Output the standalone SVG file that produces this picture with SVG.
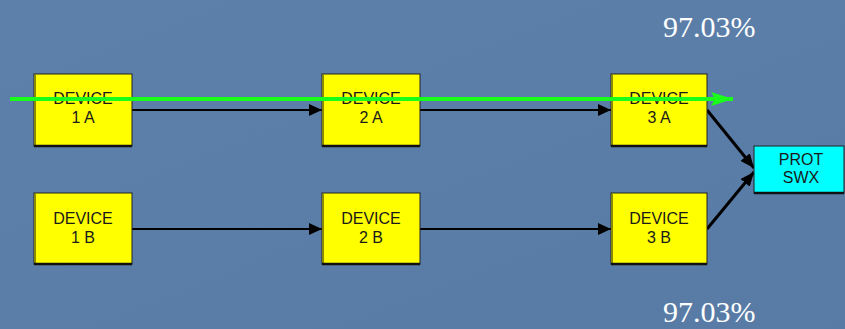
<svg xmlns="http://www.w3.org/2000/svg" width="845" height="329" viewBox="0 0 845 329">
<defs>
<linearGradient id="bg" x1="0" y1="0" x2="1" y2="1">
<stop offset="0" stop-color="#5d80aa"/>
<stop offset="0.5" stop-color="#5a7ea8"/>
<stop offset="1" stop-color="#577ba4"/>
</linearGradient>
<marker id="ah" markerWidth="13" markerHeight="12" refX="13" refY="6" orient="auto" markerUnits="userSpaceOnUse">
<path d="M0,0 L13,6 L0,12 z" fill="#000"/>
</marker>
<marker id="ahd" markerWidth="14" markerHeight="12" refX="14" refY="6" orient="auto" markerUnits="userSpaceOnUse">
<path d="M0,0 L14,6 L0,12 z" fill="#000"/>
</marker>
<marker id="ahg" markerWidth="22" markerHeight="14" refX="22" refY="7" orient="auto" markerUnits="userSpaceOnUse">
<path d="M0,0 L22,7 L0,14 L4,7 z" fill="#1aff1a"/>
</marker>
<style>
.box{fill:#ffff00;stroke:#222;stroke-width:1}
.cyan{fill:#00ffff;stroke:#222;stroke-width:1}
.ledge{stroke:#8a8a00;stroke-width:2}
.shadow{stroke:#111;stroke-width:2.5}
.lbl{font-family:"Liberation Sans",Arial,sans-serif;font-size:16px;fill:#1a1a1a;text-anchor:middle}
.pct{font-family:"Liberation Serif","Times New Roman",serif;font-size:30px;fill:#ffffff}
.conn{stroke:#000;stroke-width:2;fill:none}
.diag{stroke:#000;stroke-width:3;fill:none}
</style>
</defs>
<rect x="0" y="0" width="845" height="329" fill="url(#bg)"/>

<text class="pct" x="663" y="37">97.03%</text>
<text class="pct" x="663" y="322">97.03%</text>

<g id="connectors">
<line class="conn" x1="132" y1="110" x2="322" y2="110" marker-end="url(#ah)"/>
<line class="conn" x1="420" y1="110" x2="611" y2="110" marker-end="url(#ah)"/>
<line class="conn" x1="132" y1="229" x2="322" y2="229" marker-end="url(#ah)"/>
<line class="conn" x1="420" y1="229" x2="611" y2="229" marker-end="url(#ah)"/>
<line class="diag" x1="707" y1="110" x2="754" y2="168" marker-end="url(#ahd)"/>
<line class="diag" x1="707" y1="229" x2="754" y2="172" marker-end="url(#ahd)"/>
</g>

<g id="dev1a">
<rect class="box" x="34" y="74" width="98" height="72"/>
<line class="ledge" x1="35" y1="75" x2="35" y2="146"/>
<line class="shadow" x1="34" y1="146" x2="132" y2="146"/>
<text class="lbl" x="83" y="104">DEVICE</text>
<text class="lbl" x="83" y="123">1 A</text>
</g>
<g id="dev2a">
<rect class="box" x="322" y="74" width="98" height="72"/>
<line class="ledge" x1="323" y1="75" x2="323" y2="146"/>
<line class="shadow" x1="322" y1="146" x2="420" y2="146"/>
<text class="lbl" x="371" y="104">DEVICE</text>
<text class="lbl" x="371" y="123">2 A</text>
</g>
<g id="dev3a">
<rect class="box" x="611" y="74" width="96" height="72"/>
<line class="ledge" x1="612" y1="75" x2="612" y2="146"/>
<line class="shadow" x1="611" y1="146" x2="707" y2="146"/>
<text class="lbl" x="659" y="104">DEVICE</text>
<text class="lbl" x="659" y="123">3 A</text>
</g>
<g id="dev1b">
<rect class="box" x="34" y="193" width="98" height="71"/>
<line class="ledge" x1="35" y1="194" x2="35" y2="264"/>
<line class="shadow" x1="34" y1="264" x2="132" y2="264"/>
<text class="lbl" x="83" y="224">DEVICE</text>
<text class="lbl" x="83" y="243">1 B</text>
</g>
<g id="dev2b">
<rect class="box" x="322" y="193" width="98" height="71"/>
<line class="ledge" x1="323" y1="194" x2="323" y2="264"/>
<line class="shadow" x1="322" y1="264" x2="420" y2="264"/>
<text class="lbl" x="371" y="224">DEVICE</text>
<text class="lbl" x="371" y="243">2 B</text>
</g>
<g id="dev3b">
<rect class="box" x="611" y="193" width="96" height="71"/>
<line class="ledge" x1="612" y1="194" x2="612" y2="264"/>
<line class="shadow" x1="611" y1="264" x2="707" y2="264"/>
<text class="lbl" x="659" y="224">DEVICE</text>
<text class="lbl" x="659" y="243">3 B</text>
</g>
<g id="protswx">
<rect class="cyan" x="754" y="146" width="90" height="47"/>
<line class="shadow" x1="754" y1="193" x2="844" y2="193"/>
<text class="lbl" x="801" y="165">PROT</text>
<text class="lbl" x="801" y="183">SWX</text>
</g>

<g id="green-path">
<line x1="10" y1="99" x2="733" y2="99" stroke="#1aff1a" stroke-width="4" marker-end="url(#ahg)"/>
</g>
</svg>
